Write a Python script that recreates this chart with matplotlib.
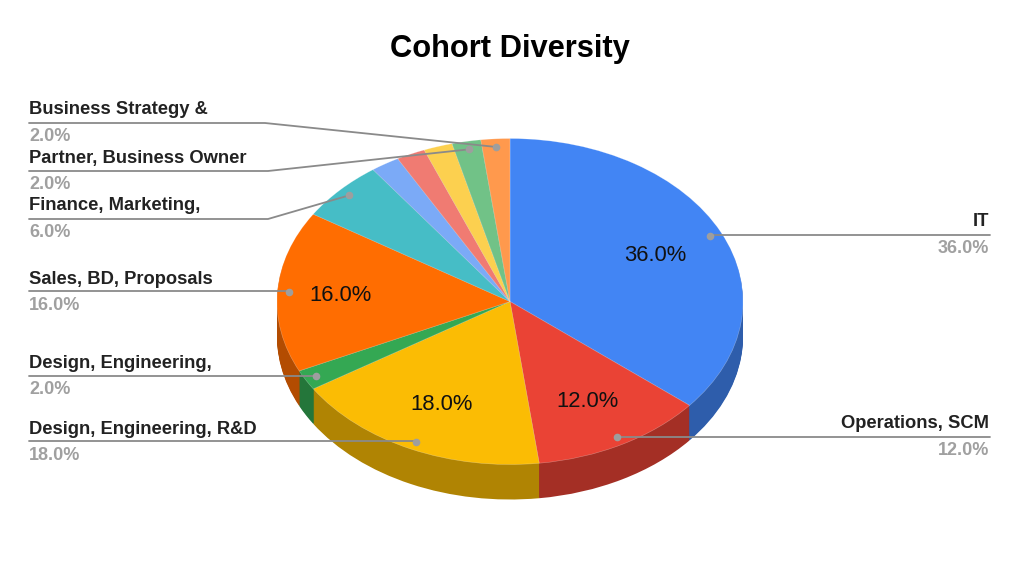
import numpy as np
import matplotlib
matplotlib.use('Agg')
import matplotlib.pyplot as plt
from matplotlib.colors import to_rgb

plt.rcParams['font.family'] = ['Liberation Sans', 'DejaVu Sans']

values = [36, 12, 18, 2, 16, 6, 2, 2, 2, 2, 2]
colors = ['#4285F4', '#EA4335', '#FBBC04', '#34A853', '#FF6D01', '#46BDC6',
          '#7BAAF7', '#F07B72', '#FCD04F', '#71C287', '#FF994D']

# label text, slice index, label y, line y, elbow x, side
labels = [
    ('IT', 0, 221, 235, None, 'right'),
    ('Operations, SCM', 1, 423, 437, None, 'right'),
    ('Design, Engineering, R&D', 2, 428, 441, None, 'left'),
    ('Design, Engineering,', 3, 362, 376, None, 'left'),
    ('Sales, BD, Proposals', 4, 278, 291, None, 'left'),
    ('Finance, Marketing,', 5, 205, 219, 268, 'left'),
    ('Partner, Business Owner', 9, 157, 171, 268, 'left'),
    ('Business Strategy &', 10, 109, 123, 265, 'left'),
]
# slice index -> how far out the inside label sits
inside = {0: 0.69, 1: 0.69, 2: 0.69, 4: 0.73}

W, H = 1019, 581
cx, cy, rx, ry, depth = 510, 301.5, 233, 163, 35

fig = plt.figure(figsize=(W / 100, H / 100), dpi=100)
ax = fig.add_axes([0, 0, 1, 1])

def darker(c, f=0.7):
    return tuple(v * f for v in to_rgb(c))

dark = [darker(c) for c in colors]

# stack dark copies downward to make the side wall
for d in np.arange(depth, 0, -1.0):
    ax.pie(values, colors=dark, startangle=90, counterclock=False,
           center=(0, -d / ry), radius=1, frame=False, wedgeprops={'linewidth': 0})
ax.pie(values, colors=colors, startangle=90, counterclock=False, radius=1, frame=False,
       wedgeprops={'linewidth': 0.4, 'edgecolor': (1, 1, 1, 0.35)})

ax.set_aspect('auto')
ax.set_xlim(-cx / rx, (W - cx) / rx)
ax.set_ylim((cy - H) / ry, cy / ry)
ax.axis('off')

# overlay in pixel coords for leaders and text
ov = fig.add_axes([0, 0, 1, 1], facecolor='none')
ov.set_xlim(0, W)
ov.set_ylim(H, 0)
ov.axis('off')

cum = np.cumsum(values)
mids = (cum - np.array(values) / 2) / cum[-1] * 2 * np.pi

def pos(i, r):
    return cx + r * rx * np.sin(mids[i]), cy - r * ry * np.cos(mids[i])

for i, r in inside.items():
    x, y = pos(i, r)
    ov.text(x, y + 1.5, f'{values[i]:.1f}%', fontsize=15.8, color='#111111', ha='center', va='center')

for name, i, ty, ly, elbow, side in labels:
    px, py = pos(i, 0.95)
    x0, tx, ha = (29, 29, 'left') if side == 'left' else (990, 989, 'right')
    xs = [x0, elbow, px] if elbow else [x0, px]
    ys = [ly, ly, py] if elbow else [ly, ly]
    ov.plot(xs, ys, color='#8a8a8a', lw=1.3, solid_capstyle='round')
    ov.plot([px], [py], 'o', color='#9e9e9e', ms=5.5, mew=0)
    ov.text(tx, ty + 1, name, fontsize=13.2, fontweight='bold', color='#222222', ha=ha, va='center')
    ov.text(tx, ty + 27.5, f'{values[i]:.1f}%', fontsize=13, fontweight='bold',
            color='#a0a0a0', ha=ha, va='center')

ov.text(510, 49, 'Cohort Diversity', fontsize=22.2, fontweight='bold', color='black',
        ha='center', va='center')

fig.savefig('out.png', dpi=100, facecolor='white')
